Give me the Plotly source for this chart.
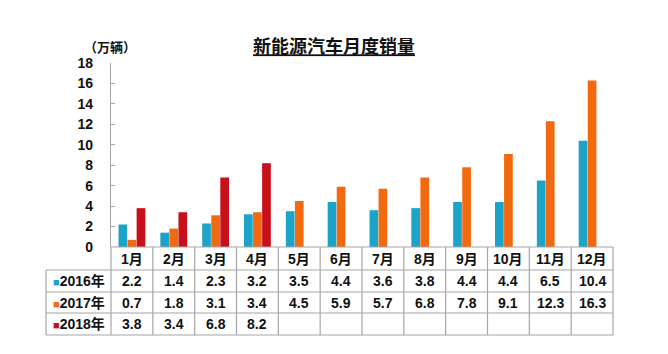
import plotly.graph_objects as go

months = ["1月", "2月", "3月", "4月", "5月", "6月", "7月", "8月", "9月", "10月", "11月", "12月"]
series_names = ["2016年", "2017年", "2018年"]
sales_2016 = [2.2, 1.4, 2.3, 3.2, 3.5, 4.4, 3.6, 3.8, 4.4, 4.4, 6.5, 10.4]
sales_2017 = [0.7, 1.8, 3.1, 3.4, 4.5, 5.9, 5.7, 6.8, 7.8, 9.1, 12.3, 16.3]
sales_2018 = [3.8, 3.4, 6.8, 8.2, None, None, None, None, None, None, None, None]
colors = ["#1BA3C8", "#F26A10", "#C8101B"]
y_ticks = [0, 2, 4, 6, 8, 10, 12, 14, 16, 18]

all_series = [sales_2016, sales_2017, sales_2018]

W, H = 668, 354
L, R, T, B = 111, 55, 63, 107
plot_h = H - T - B

FONT = "Arial, 'Liberation Sans', 'Noto Sans CJK SC', sans-serif"
GRID = "#A6A6A6"

def py(pix):
    # pixel row -> paper y
    return (H - B - pix) / plot_h

def px(pix):
    return (pix - L) / (W - L - R)

fig = go.Figure()
for name, vals, c in zip(series_names, all_series, colors):
    fig.add_trace(go.Bar(x=months, y=vals, name=name, marker=dict(color=c, line=dict(width=0)),
                         showlegend=False))

shapes = []
annotations = []

row_pix = [247, 270, 292, 313, 335]
# horizontal lines
shapes.append(dict(type="line", xref="paper", yref="paper", x0=0, x1=1, y0=py(row_pix[0]), y1=py(row_pix[0]),
                   line=dict(color=GRID, width=1.2)))
for rp in row_pix[1:]:
    shapes.append(dict(type="line", xref="paper", yref="paper", x0=px(46), x1=1, y0=py(rp), y1=py(rp),
                       line=dict(color=GRID, width=1.2)))
# vertical lines
shapes.append(dict(type="line", xref="paper", yref="paper", x0=px(46), x1=px(46), y0=py(row_pix[1]), y1=py(row_pix[-1]),
                   line=dict(color=GRID, width=1.2)))
shapes.append(dict(type="line", xref="paper", yref="paper", x0=0, x1=0, y0=py(row_pix[0]), y1=py(row_pix[-1]),
                   line=dict(color=GRID, width=1.2)))
shapes.append(dict(type="line", xref="paper", yref="paper", x0=1, x1=1, y0=py(row_pix[0]), y1=py(row_pix[-1]),
                   line=dict(color=GRID, width=1.2)))
for i in range(len(months) - 1):
    shapes.append(dict(type="line", xref="x", yref="paper", x0=i + 0.5, x1=i + 0.5, y0=py(row_pix[0]), y1=py(row_pix[-1]),
                       line=dict(color=GRID, width=1.2)))

tfont = dict(family=FONT, size=14, color="#111111", weight="bold")

# header row (months)
for i, m in enumerate(months):
    annotations.append(dict(x=i, y=(py(row_pix[0]) + py(row_pix[1])) / 2, xref="x", yref="paper",
                            text=m, showarrow=False, font=tfont, xanchor="center", yanchor="middle"))
# data rows
for r, (name, vals, c) in enumerate(zip(series_names, all_series, colors)):
    yc = (py(row_pix[r + 1]) + py(row_pix[r + 2])) / 2
    annotations.append(dict(x=px(79), y=yc, xref="paper", yref="paper",
                            text=f"<span style='color:{c};font-size:11px'>■</span>{name}",
                            showarrow=False, font=tfont, xanchor="center", yanchor="middle"))
    for i, v in enumerate(vals):
        if v is None:
            continue
        annotations.append(dict(x=i, y=yc, xref="x", yref="paper", text=f"{v:.1f}",
                                showarrow=False, font=tfont, xanchor="center", yanchor="middle"))

# y-axis unit label
annotations.append(dict(x=px(138), y=py(48), xref="paper", yref="paper", text="（万辆）",
                        showarrow=False, font=dict(family=FONT, size=13, color="#111111", weight="bold"),
                        xanchor="right", yanchor="middle"))

fig.update_layout(
    width=W, height=H,
    margin=dict(l=L, r=R, t=T, b=B),
    paper_bgcolor="white", plot_bgcolor="white",
    barmode="group", bargap=0.35, bargroupgap=0.04,
    title=dict(text="<u>新能源汽车月度销量</u>", xref="paper", x=px(334), xanchor="center",
               yref="container", y=1 - 47 / H, yanchor="middle",
               font=dict(family=FONT, size=18, color="#111111", weight="bold")),
    xaxis=dict(showticklabels=False, showline=False, ticks="", showgrid=False, zeroline=False,
               range=[-0.5, len(months) - 0.5]),
    yaxis=dict(range=[0, 18], tickvals=y_ticks, showgrid=False, zeroline=False,
               showline=True, linecolor=GRID, linewidth=1.2, ticks="inside", ticklen=4, tickcolor=GRID,
               tickfont=dict(family=FONT, size=14, color="#111111", weight="bold"), ticklabelstandoff=14),
    shapes=shapes,
    annotations=annotations,
)

fig.write_html("out.html")
